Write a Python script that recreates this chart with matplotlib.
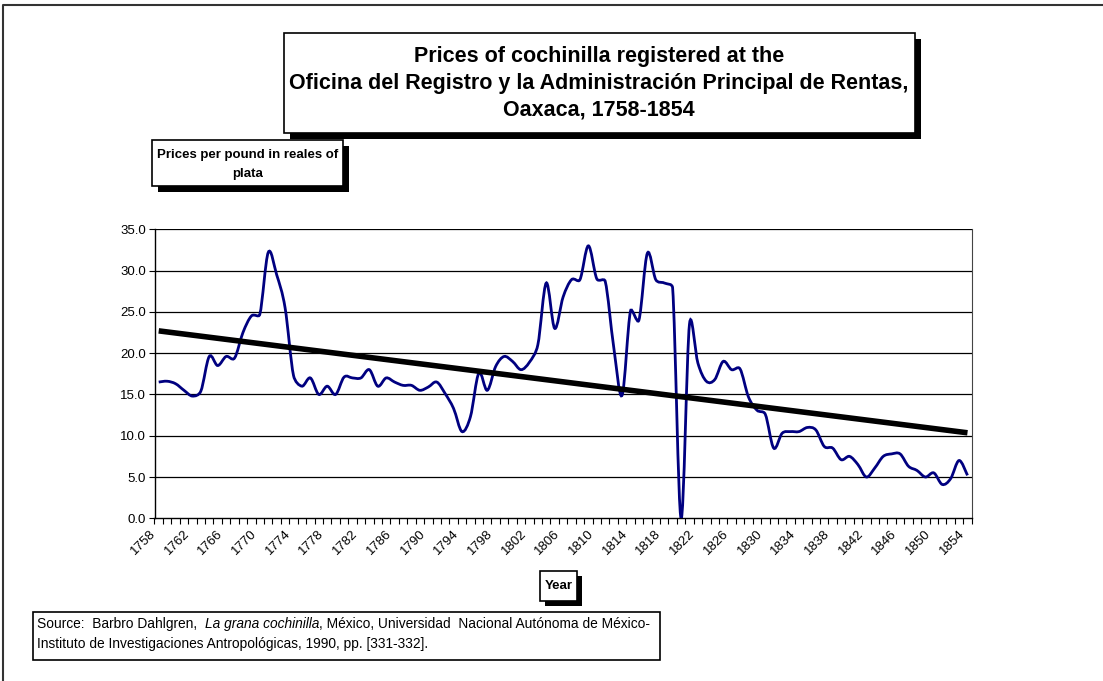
import numpy as np
import matplotlib
matplotlib.use("Agg")
import matplotlib.pyplot as plt
from matplotlib.patches import Rectangle, PathPatch
from matplotlib.path import Path
from matplotlib.lines import Line2D
from matplotlib.transforms import ScaledTranslation

plt.rcParams['font.family'] = ['Liberation Sans', 'DejaVu Sans']

years = list(range(1758, 1855))
prices = [16.5, 16.6, 16.3, 15.5, 14.8, 15.4, 19.6, 18.5, 19.6, 19.4,
          22.5, 24.5, 24.7, 32.2, 29.5, 25.5, 17.3, 16.0, 17.0, 15.0,
          16.0, 15.0, 17.1, 17.0, 17.0, 18.0, 16.0, 17.0, 16.5, 16.1,
          16.1, 15.5, 15.9, 16.5, 15.1, 13.3, 10.5, 12.3, 17.6, 15.5,
          18.4, 19.6, 19.0, 18.0, 18.9, 21.0, 28.5, 23.0, 26.8, 28.9,
          28.9, 33.0, 29.0, 28.7, 20.8, 14.9, 25.1, 24.0, 32.1, 28.9,
          28.5, 27.9, 0.0, 23.5, 18.8, 16.6, 16.8, 19.0, 18.0, 18.1,
          14.7, 13.1, 12.6, 8.5, 10.3, 10.5, 10.5, 11.0, 10.7, 8.7,
          8.5, 7.1, 7.5, 6.5, 5.0, 6.1, 7.5, 7.8, 7.8, 6.3,
          5.8, 5.0, 5.5, 4.1, 4.8, 7.0, 5.2]
label_years = list(range(1758, 1855, 4))
y_ticks = [0, 5, 10, 15, 20, 25, 30, 35]

W, H = 1103, 681
fig = plt.figure(figsize=(W / 100, H / 100), dpi=100)


def fx(px):
    return px / W


def fy(py):
    return 1 - py / H


def box(x0, y0, x1, y1, shadow=0):
    if shadow:
        fig.add_artist(Rectangle((fx(x0 + shadow), fy(y1 + shadow)), fx(x1 - x0), (y1 - y0) / H,
                                 transform=fig.transFigure, facecolor="black", edgecolor="none"))
    fig.add_artist(Rectangle((fx(x0), fy(y1)), fx(x1 - x0), (y1 - y0) / H,
                             transform=fig.transFigure, facecolor="white", edgecolor="black", lw=1.2))


# outer frame (top and left edges only)
fig.add_artist(Line2D([fx(3), fx(3), 1], [0, fy(4.5), fy(4.5)], transform=fig.transFigure,
                      color="#333333", lw=1.5))

ax = fig.add_axes([fx(154.5), fy(518.3), fx(971.7 - 154.5), (518.3 - 229.3) / H])
ax.set_xlim(1757.5, 1854.5)
ax.set_ylim(0, 35)

for v in y_ticks[1:]:
    ax.axhline(v, color="black", lw=0.9, zorder=1)

# smoothed line, bezier through the points with limited tangents
x = np.array(years, dtype=float)
y = np.array(prices)
n = len(x)
verts = [(x[0], y[0])]
codes = [Path.MOVETO]
for i in range(n - 1):
    p0 = np.array([x[max(i - 1, 0)], y[max(i - 1, 0)]])
    p1 = np.array([x[i], y[i]])
    p2 = np.array([x[i + 1], y[i + 1]])
    p3 = np.array([x[min(i + 2, n - 1)], y[min(i + 2, n - 1)]])
    d12 = np.hypot(*(p2 - p1))
    d02 = np.hypot(*(p2 - p0))
    d13 = np.hypot(*(p3 - p1))
    f1 = min(1 / 6, 0.5 * d12 / d02) if d02 > 0 else 0
    f2 = min(1 / 6, 0.5 * d12 / d13) if d13 > 0 else 0
    c1 = p1 + (p2 - p0) * f1
    c2 = p2 - (p3 - p1) * f2
    verts += [tuple(c1), tuple(c2), tuple(p2)]
    codes += [Path.CURVE4] * 3
ax.add_patch(PathPatch(Path(verts, codes), facecolor="none", edgecolor="#000080", lw=2, zorder=3))

# linear trend
k, b = np.polyfit(x, y, 1)
ax.plot([x[0], x[-1]], [k * x[0] + b, k * x[-1] + b], color="black", lw=4, zorder=4,
        solid_capstyle="butt")

ax.set_yticks(y_ticks)
ax.set_yticklabels(["%.1f" % v for v in y_ticks], fontsize=9.5)
ax.set_xticks([])
ax.set_xticks(np.arange(1757.5, 1855, 1), minor=True)
ax.tick_params(axis="x", which="minor", length=4, direction="out", width=0.8)
ax.tick_params(axis="y", length=4, direction="out", width=0.8, pad=2)

# year labels, rotated, right end just under each label year
shift = ScaledTranslation(-5 / 100, -14 / 100, fig.dpi_scale_trans)
for yr in label_years:
    ax.text(yr, 0, str(yr), transform=ax.get_xaxis_transform() + shift, fontsize=9.5,
            rotation=45, ha="right", va="center", rotation_mode="anchor")

for s in ["left", "bottom"]:
    ax.spines[s].set_linewidth(1.0)
ax.spines["right"].set_color("#444444")
ax.spines["top"].set_visible(False)

# title box
box(284, 33, 915, 133, shadow=6)
fig.text(fx(599), fy(83),
         "Prices of cochinilla registered at the\n"
         "Oficina del Registro y la Administración Principal de Rentas,\n"
         "Oaxaca, 1758-1854",
         ha="center", va="center", fontsize=15.5, fontweight="bold", linespacing=1.35)

# y label box
box(152, 140, 343, 186, shadow=6)
fig.text(fx(247.5), fy(164.5), "Prices per pound in reales of\nplata", ha="center", va="center",
         fontsize=9.5, fontweight="bold", linespacing=1.75)

# x label box
box(540, 571, 577, 601, shadow=5)
fig.text(fx(558.5), fy(586), "Year", ha="center", va="center", fontsize=9.5, fontweight="bold")

# source box
box(33, 612, 660, 660)
fs = 9.9
src1 = fig.text(fx(37), fy(624), "Source:  Barbro Dahlgren,  ", ha="left", va="center", fontsize=fs)
fig.canvas.draw()
r = fig.canvas.get_renderer()
bb = src1.get_window_extent(r)
it = fig.text(bb.x1 / W, fy(624), "La grana cochinilla", ha="left", va="center", fontsize=fs,
              style="italic")
bb2 = it.get_window_extent(r)
fig.text(bb2.x1 / W, fy(624), ", México, Universidad  Nacional Autónoma de México-",
         ha="left", va="center", fontsize=fs)
fig.text(fx(37), fy(644), "Instituto de Investigaciones Antropológicas, 1990, pp. [331-332].",
         ha="left", va="center", fontsize=fs)

plt.savefig("out.png", dpi=100)
